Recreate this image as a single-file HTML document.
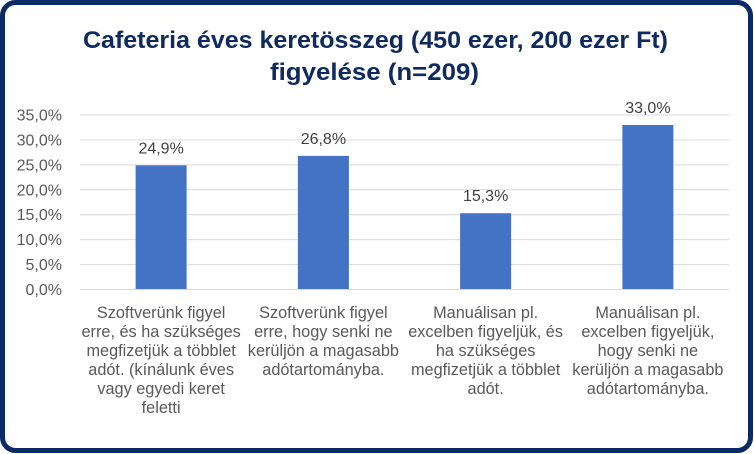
<!DOCTYPE html>
<html><head><meta charset="utf-8"><style>
html,body{margin:0;padding:0;background:#fff;}
svg{display:block;font-family:"Liberation Sans",sans-serif;}
</style></head><body>
<svg id="chart" width="754" height="454" viewBox="0 0 754 454">
  <rect x="2.5" y="2.5" width="748" height="448" rx="13" fill="#fff" stroke="#0B2A66" stroke-width="5"/>
  <g fill="#0E2A5E" font-weight="bold" font-size="24">
    <text x="83" y="48" textLength="585" lengthAdjust="spacingAndGlyphs">Cafeteria éves keretösszeg (450 ezer, 200 ezer Ft)</text>
    <text x="270" y="80" textLength="209" lengthAdjust="spacingAndGlyphs">figyelése (n=209)</text>
  </g>
  <g id="grid"></g>
  <g id="yaxis"></g>
  <g id="bars"></g>
  <g id="xaxis"></g>
</svg>
<script>
const categories = [
  ["Szoftverünk figyel","erre, és ha szükséges","megfizetjük a többlet","adót. (kínálunk éves","vagy egyedi keret","feletti"],
  ["Szoftverünk figyel","erre, hogy senki ne","kerüljön a magasabb","adótartományba."],
  ["Manuálisan pl.","excelben figyeljük, és","ha szükséges","megfizetjük a többlet","adót."],
  ["Manuálisan pl.","excelben figyeljük,","hogy senki ne","kerüljön a magasabb","adótartományba."]
];
const values = [24.9, 26.8, 15.3, 33.0];
const valueLabels = ["24,9%","26,8%","15,3%","33,0%"];
const yTicks = [0,5,10,15,20,25,30,35];
const yTickLabels = ["0,0%","5,0%","10,0%","15,0%","20,0%","25,0%","30,0%","35,0%"];

const NS="http://www.w3.org/2000/svg";
const x0=80, x1=729, yBase=289.5, yTop=115;
const yMax=35;
function y(v){return yBase-(v/yMax)*(yBase-yTop);}
const band=(x1-x0)/categories.length;
function xc(i){return x0+band*(i+0.5);}
function mk(tag,attrs,parent){const e=document.createElementNS(NS,tag);for(const k in attrs)e.setAttribute(k,attrs[k]);parent.appendChild(e);return e;}

const grid=document.getElementById('grid'), yax=document.getElementById('yaxis'), bars=document.getElementById('bars'), xax=document.getElementById('xaxis');
yTicks.forEach((t,i)=>{
  if(t!==0){
    const l=mk('line',{x1:x0,x2:x1,y1:y(t),y2:y(t),stroke:'#D9D9D9','stroke-width':1},grid);
    
    
  }
  const tx=mk('text',{x:62,y:y(t)+5.5,'text-anchor':'end','font-size':16,fill:'#595959'},yax);
  tx.textContent=yTickLabels[i];
  
  
});
values.forEach((v,i)=>{
  const w=51;
  const r=mk('rect',{x:xc(i)-w/2,y:y(v),width:w,height:yBase-y(v),fill:'#4472C4'},bars);
  
  
  const lb=mk('text',{x:xc(i),y:y(v)-12,'text-anchor':'middle','font-size':16,fill:'#404040'},bars);
  lb.textContent=valueLabels[i];
  
  
  const g=mk('text',{'text-anchor':'middle','font-size':16.3,fill:'#595959'},xax);
  
  
  categories[i].forEach((line,j)=>{
    const ts=mk('tspan',{x:xc(i),y:318+j*19},g);
    ts.textContent=line;
  });
});
const ax=mk('line',{x1:x0,x2:x1,y1:yBase,y2:yBase,stroke:'#D9D9D9','stroke-width':1},xax);


</script>
</body></html>
